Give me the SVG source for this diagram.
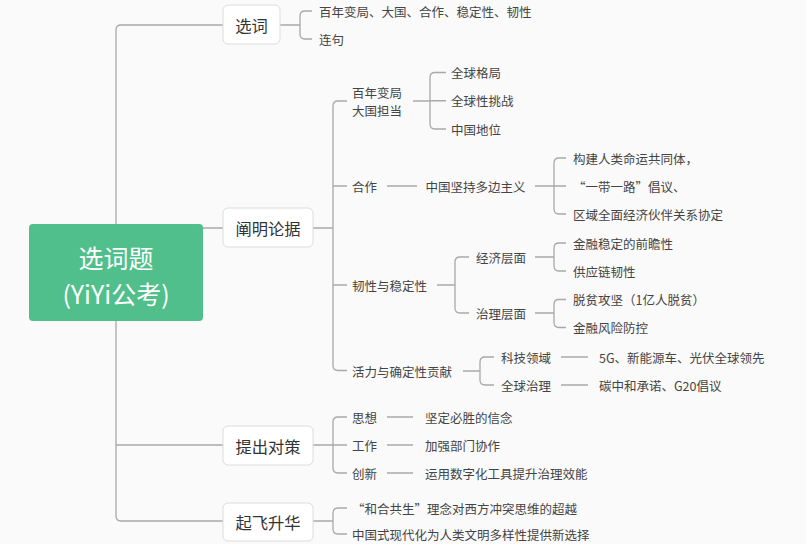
<svg xmlns="http://www.w3.org/2000/svg" width="806" height="544" viewBox="0 0 806 544">
<style>
.bg{fill:#fafafa}
.ln{fill:none;stroke:#a9a9a9;stroke-width:1.3}
.box{fill:#ffffff;stroke:#dcdcdc;stroke-width:1}
.t{font-family:"Noto Sans CJK SC","Noto Sans",sans-serif;dominant-baseline:central}
.l1{font-size:16.3px;fill:#333333;text-anchor:middle}
.lf{font-size:12.5px;fill:#444444}
.rt{font-size:25px;fill:#ffffff;text-anchor:middle}
</style>
<rect class="bg" x="0" y="0" width="806" height="544"/>
<g id="connectors">
<path class="ln" d="M223 25 H121 Q116 25 116 30 V516 Q116 521 121 521 H223 M116 228 H223 M116 445 H223"/>
<path class="ln" d="M280 25 H300 M312 11 H305 Q300 11 300 16 V34 Q300 39 305 39 H312"/>
<path class="ln" d="M313 228 H333 M347 101 H338 Q333 101 333 106 V365.5 Q333 370.5 338 370.5 H347 M333 186 H347 M333 285 H347"/>
<path class="ln" d="M413 101 H430 M446 72.5 H435 Q430 72.5 430 77.5 V124 Q430 129 435 129 H446 M430 100.75 H446"/>
<path class="ln" d="M387 186 H417 M535 186 H554 M566 158 H559 Q554 158 554 163 V209 Q554 214 559 214 H566 M554 186 H566"/>
<path class="ln" d="M437 285 H455 M469 257 H460 Q455 257 455 262 V308 Q455 313 460 313 H469"/>
<path class="ln" d="M535 257 H554 M566 243 H559 Q554 243 554 248 V266 Q554 271 559 271 H566"/>
<path class="ln" d="M535 313 H554 M566 299.5 H559 Q554 299.5 554 304.5 V322.5 Q554 327.5 559 327.5 H566"/>
<path class="ln" d="M463 371 H480 M494 357 H485 Q480 357 480 362 V380 Q480 385 485 385 H494 M561 357 H588 M561 385 H588"/>
<path class="ln" d="M313 445 H333 M347 417 H338 Q333 417 333 422 V468 Q333 473 338 473 H347 M333 445 H347 M387 417 H413 M387 445 H413 M387 473 H413"/>
<path class="ln" d="M313 521 H333 M347 508 H338 Q333 508 333 513 V529 Q333 534 338 534 H347"/>
</g>
<g id="root">
<rect x="29" y="224" width="174" height="97" rx="4" fill="#50bf8b"/>
<text class="t rt" x="116" y="257">选词题</text>
<text class="t rt" x="116" y="293">(YiYi公考)</text>
</g>
<g id="n-xuanci">
<rect class="box" x="223" y="5" width="57" height="39" rx="5"/>
<text class="t l1" x="251.5" y="24.5">选词</text>
</g>
<g id="n-xuanci-children">
<text class="t lf" x="319" y="11">百年变局、大国、合作、稳定性、韧性</text>
<text class="t lf" x="319" y="39">连句</text>
</g>
<g id="n-chanming">
<rect class="box" x="223" y="208" width="90" height="39" rx="5"/>
<text class="t l1" x="268" y="227.5">阐明论据</text>
</g>
<g id="n-bainian">
<text class="t lf" x="352" y="92">百年变局</text>
<text class="t lf" x="352" y="110">大国担当</text>
</g>
<g id="n-bainian-children">
<text class="t lf" x="451" y="72.5">全球格局</text>
<text class="t lf" x="451" y="100.75">全球性挑战</text>
<text class="t lf" x="451" y="129">中国地位</text>
</g>
<g id="n-hezuo">
<text class="t lf" x="352" y="186">合作</text>
<text class="t lf" x="425.5" y="186">中国坚持多边主义</text>
<text class="t lf" x="573" y="158">构建人类命运共同体，</text>
<text class="t lf" x="573" y="186">“一带一路”倡议、</text>
<text class="t lf" x="573" y="214">区域全面经济伙伴关系协定</text>
</g>
<g id="n-renxing">
<text class="t lf" x="352" y="285">韧性与稳定性</text>
<text class="t lf" x="476" y="257">经济层面</text>
<text class="t lf" x="476" y="313">治理层面</text>
<text class="t lf" x="573" y="243">金融稳定的前瞻性</text>
<text class="t lf" x="573" y="271">供应链韧性</text>
<text class="t lf" x="573" y="299.5">脱贫攻坚（1亿人脱贫）</text>
<text class="t lf" x="573" y="327.5">金融风险防控</text>
</g>
<g id="n-huoli">
<text class="t lf" x="352" y="371">活力与确定性贡献</text>
<text class="t lf" x="501" y="357">科技领域</text>
<text class="t lf" x="501" y="385">全球治理</text>
<text class="t lf" x="599" y="357">5G、新能源车、光伏全球领先</text>
<text class="t lf" x="599" y="385">碳中和承诺、G20倡议</text>
</g>
<g id="n-tichu">
<rect class="box" x="223" y="426" width="90" height="39" rx="5"/>
<text class="t l1" x="268" y="445.5">提出对策</text>
</g>
<g id="n-tichu-children">
<text class="t lf" x="352" y="417">思想</text>
<text class="t lf" x="352" y="445">工作</text>
<text class="t lf" x="352" y="473">创新</text>
<text class="t lf" x="425" y="417">坚定必胜的信念</text>
<text class="t lf" x="425" y="445">加强部门协作</text>
<text class="t lf" x="425" y="473">运用数字化工具提升治理效能</text>
</g>
<g id="n-qifei">
<rect class="box" x="223" y="503" width="90" height="38" rx="5"/>
<text class="t l1" x="268" y="522">起飞升华</text>
</g>
<g id="n-qifei-children">
<text class="t lf" x="352" y="508">“和合共生”理念对西方冲突思维的超越</text>
<text class="t lf" x="352" y="534">中国式现代化为人类文明多样性提供新选择</text>
</g>
</svg>
